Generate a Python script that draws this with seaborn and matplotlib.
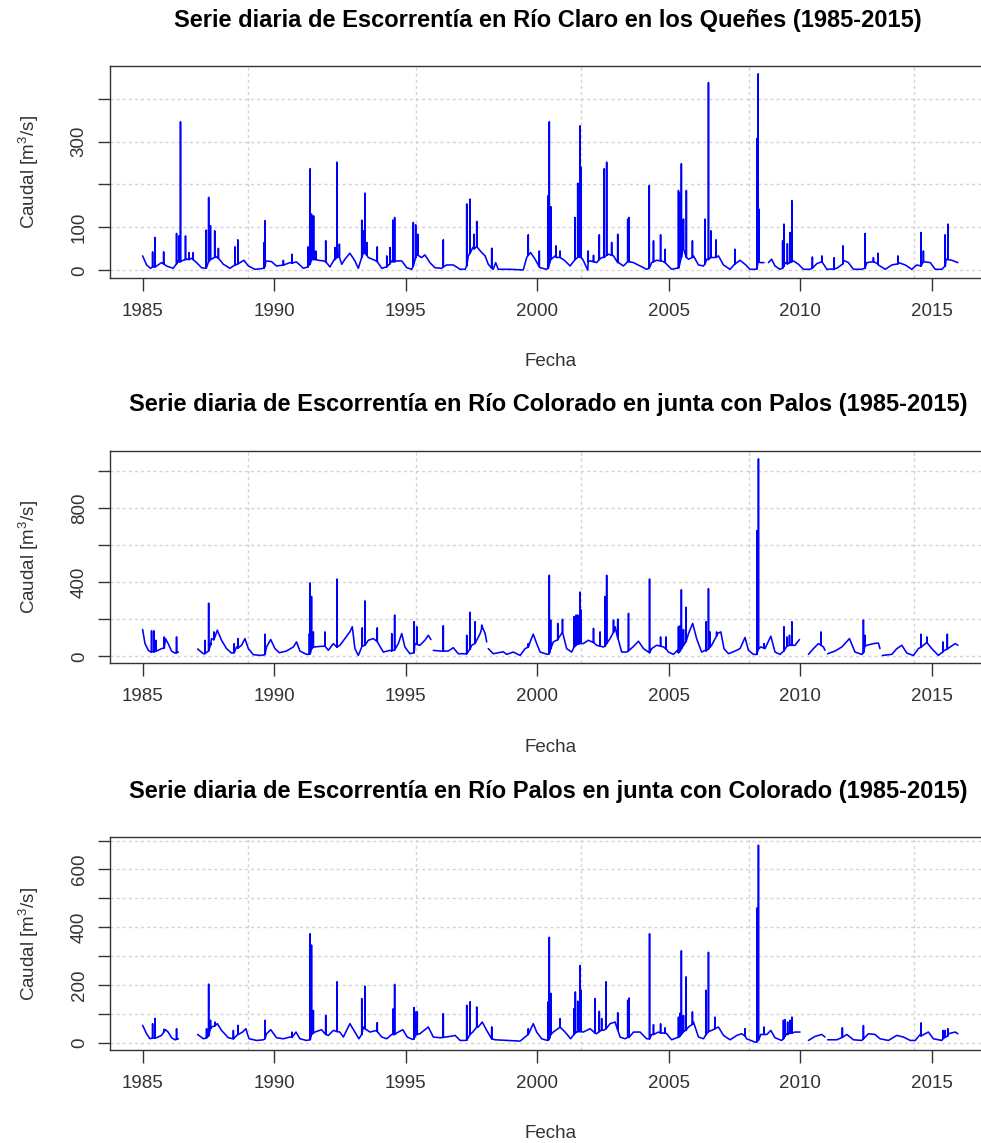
import numpy as np
import pandas as pd
import matplotlib
matplotlib.use("Agg")
import matplotlib.pyplot as plt
import seaborn as sns

# ---------------------------------------------------------------------------
# Daily runoff series (decimal year, m3/s).  Base flow points trace the
# seasonal hydrograph; peaks are the flood events (date, peak, flow at foot).
# NaN marks missing records.
# ---------------------------------------------------------------------------

# Río Claro en los Queñes
claro_t = [1985.00, 1985.15, 1985.30, 1985.53, 1985.72, 1985.91, 1986.16, 1986.35, 1986.48, 1986.67,
           1986.86, 1987.05, 1987.24, 1987.37, 1987.56, 1987.75, 1987.88, 1988.07, 1988.32, 1988.51,
           1988.70, 1988.85, 1989.02, 1989.27, 1989.52, 1989.69, 1989.90, 1990.09, 1990.35, 1990.60,
           1990.85, 1991.11, 1991.30, 1991.42, 1991.68, 1991.87, 1992.12, 1992.29, 1992.44, 1992.57,
           1992.69, 1992.88, 1993.07, 1993.20, 1993.39, 1993.58, 1993.83, 1994.09, 1994.28, 1994.47,
           1994.66, 1994.85, 1995.04, 1995.23, 1995.42, 1995.61, 1995.73, 1995.92, 1996.11, 1996.37,
           1996.56, 1996.81, 1997.07, 1997.26, 1997.38, 1997.55, 1997.70, 1997.89, 1998.02, 1998.14,
           1998.33, 1998.42, 1998.52, 1998.97, 1999.47, 1999.60, 1999.75, 1999.92, 2000.11, 2000.36,
           2000.49, 2000.68, 2000.87, 2001.06, 2001.25, 2001.40, 2001.56, 2001.75, 2001.92, 2002.01,
           2002.26, 2002.45, 2002.71, 2002.90, 2003.09, 2003.28, 2003.47, 2003.66, 2003.91, 2004.16,
           2004.35, 2004.54, 2004.73, 2004.92, 2005.11, 2005.30, 2005.53, 2005.75, 2005.94, 2006.13,
           2006.32, 2006.44, 2006.63, 2006.89, 2007.08, 2007.33, 2007.52, 2007.71, 2007.90, 2008.09,
           2008.28, 2008.47, 2008.62, 2008.70, 2008.79, 2008.91, 2009.04, 2009.23, 2009.42, 2009.74,
           2009.93, 2010.12, 2010.37, 2010.63, 2010.82, 2011.01, 2011.39, 2011.64, 2011.83, 2012.02,
           2012.34, 2012.53, 2012.78, 2012.97, 2013.23, 2013.48, 2013.73, 2013.99, 2014.24, 2014.43,
           2014.68, 2014.94, 2015.13, 2015.38, 2015.54, 2015.76, 2015.99]
claro_q = [33.5, 12.4, 4.6, 10.0, 17.9, 10.0, 4.6, 21.8, 21.8, 25.7,
           28.0, 17.9, 6.0, 4.6, 25.7, 33.5, 29.6, 14.0, 4.6, 12.4,
           17.9, 23.3, 10.0, 2.3, 3.8, 21.8, 20.2, 10.0, 12.4, 17.9,
           19.4, 4.6, 10.0, 28.0, 23.3, 21.8, 7.7, 25.7, 37.4, 14.0,
           25.7, 39.8, 21.8, 4.6, 53.0, 29.6, 23.3, 4.6, 7.7, 21.8,
           21.8, 21.8, 6.0, 2.3, 41.3, 29.6, 35.9, 17.9, 6.0, 4.6,
           12.4, 12.4, 2.3, 2.3, 33.5, 53.0, 57.0, 41.3, 33.5, 14.0,
           2.3, 17.9, 2.3, 2.3, 0.7, 29.6, 41.3, 25.7, 6.0, 2.3,
           21.8, 33.5, 29.6, 21.8, 10.0, 21.8, 33.5, 23.3, 0.3, 21.8,
           17.9, 29.6, 37.4, 33.5, 17.9, 10.0, 21.8, 17.9, 10.0, 2.3,
           17.9, 23.3, 21.8, 14.0, 2.3, 4.6, 53.0, 25.7, 33.5, 12.4,
           10.0, 25.7, 29.6, 33.5, 12.4, 2.3, 17.9, 23.3, 14.0, 2.3,
           2.3, 17.9, 17.9, np.nan, 17.9, 25.7, 10.0, 2.3, 17.9, 21.8,
           14.0, 2.3, 2.3, 15.5, 21.8, 2.3, 4.6, 23.3, 17.9, 2.3,
           2.3, 17.9, 21.8, 12.4, 2.3, 12.4, 17.9, 12.4, 2.3, 12.4,
           21.8, 17.9, 2.3, 2.3, 25.7, 23.3, 17.9]
claro_pico_t = [1985.38, 1985.47, 1985.80, 1986.29, 1986.38, 1986.44, 1986.63, 1986.77, 1986.92, 1987.42,
                1987.51, 1987.58, 1987.74, 1987.88, 1988.51, 1988.62, 1989.62, 1989.65, 1990.35, 1990.68,
                1991.29, 1991.37, 1991.42, 1991.50, 1991.58, 1991.96, 1992.31, 1992.39, 1992.48, 1993.33,
                1993.39, 1993.45, 1993.52, 1993.92, 1994.28, 1994.40, 1994.51, 1994.58, 1995.29, 1995.38,
                1995.46, 1996.43, 1997.32, 1997.45, 1997.60, 1997.70, 1998.27, 1999.66, 2000.08, 2000.42,
                2000.46, 2000.52, 2000.72, 2000.87, 2001.44, 2001.54, 2001.63, 2001.67, 2001.94, 2002.14,
                2002.36, 2002.55, 2002.64, 2002.83, 2003.06, 2003.44, 2003.49, 2004.26, 2004.42, 2004.69,
                2004.86, 2005.37, 2005.40, 2005.48, 2005.56, 2005.67, 2005.90, 2006.38, 2006.51, 2006.60,
                2006.80, 2007.52, 2008.35, 2008.40, 2008.42, 2009.33, 2009.38, 2009.51, 2009.61, 2009.68,
                2010.46, 2010.82, 2011.29, 2011.62, 2012.46, 2012.78, 2012.95, 2013.71, 2014.59, 2014.68,
                2015.51, 2015.61]
claro_pico_q = [42.9, 76.5, 42.9, 85.9, 80.0, 346.0, 80.0, 41.3, 41.0, 93.6,
                170.0, 103.8, 92.0, 51.0, 54.6, 71.0, 64.7, 115.5, 23.3, 37.4,
                54.6, 236.6, 131.0, 127.0, 45.0, 68.7, 53.0, 252.0, 61.0, 117.0,
                92.0, 180.0, 65.0, 54.6, 33.5, 53.0, 117.0, 123.0, 111.6, 106.0,
                84.0, 71.0, 154.6, 166.0, 84.0, 114.0, 51.5, 82.7, 45.0, 174.0,
                346.0, 148.0, 57.0, 45.0, 123.0, 203.0, 336.6, 240.0, 45.0, 35.0,
                82.7, 236.6, 252.0, 65.0, 84.0, 119.4, 123.0, 197.5, 68.7, 82.7,
                49.0, 186.0, 179.6, 248.3, 119.4, 186.0, 68.7, 119.4, 437.4, 92.0,
                71.0, 49.0, 307.0, 457.7, 143.0, 68.7, 107.7, 62.0, 88.0, 162.4,
                31.0, 33.5, 29.6, 57.0, 85.8, 29.6, 40.0, 33.5, 88.0, 45.0,
                82.7, 107.7]
claro_pico_pie = [8, 8, 15, 15, 20, 20, 25, 25, 25, 5,
                  20, 25, 30, 28, 12, 15, 5, 10, 12, 17,
                  8, 15, 25, 25, 25, 20, 25, 30, 30, 30,
                  40, 40, 35, 20, 8, 15, 20, 20, 10, 30,
                  35, 8, 10, 40, 50, 55, 5, 35, 8, 5,
                  15, 25, 30, 30, 25, 30, 30, 30, 20, 20,
                  25, 30, 35, 35, 18, 20, 20, 5, 20, 22,
                  18, 5, 10, 30, 50, 30, 30, 15, 25, 30,
                  30, 15, 3, 20, 20, 5, 10, 15, 18, 20,
                  5, 20, 3, 15, 5, 20, 15, 15, 10, 20,
                  10, 25]

# Río Colorado en junta con Palos
colorado_t = [1985.00, 1985.09, 1985.22, 1985.31, 1985.53, 1985.72, 1985.87, 1985.97, 1986.10, 1986.23,
              1986.36, 1986.70, 1987.09, 1987.31, 1987.62, 1987.84, 1988.00, 1988.19, 1988.38, 1988.57,
              1988.76, 1988.89, 1989.02, 1989.21, 1989.52, 1989.71, 1989.87, 1990.03, 1990.20, 1990.47,
              1990.73, 1990.85, 1990.98, 1991.23, 1991.55, 1991.74, 1992.06, 1992.25, 1992.50, 1992.69,
              1992.88, 1992.97, 1993.07, 1993.20, 1993.33, 1993.58, 1993.77, 1993.96, 1994.15, 1994.40,
              1994.72, 1994.85, 1994.97, 1995.16, 1995.35, 1995.54, 1995.73, 1995.86, 1995.96, 1996.00,
              1996.05, 1996.31, 1996.62, 1996.81, 1997.00, 1997.26, 1997.51, 1997.70, 1997.83, 1997.91,
              1998.02, 1998.08, 1998.11, 1998.14, 1998.33, 1998.71, 1998.84, 1999.09, 1999.35, 1999.54,
              1999.73, 1999.85, 1999.98, 2000.11, 2000.39, 2000.61, 2000.80, 2000.96, 2001.12, 2001.31,
              2001.50, 2001.75, 2001.94, 2002.26, 2002.52, 2002.77, 2002.96, 2003.09, 2003.21, 2003.40,
              2003.66, 2003.85, 2004.04, 2004.23, 2004.35, 2004.54, 2004.80, 2004.99, 2005.18, 2005.33,
              2005.75, 2005.91, 2006.06, 2006.25, 2006.38, 2006.63, 2006.85, 2006.98, 2007.10, 2007.27,
              2007.52, 2007.71, 2007.90, 2008.03, 2008.22, 2008.32, 2008.50, 2008.66, 2008.88, 2009.04,
              2009.23, 2009.49, 2009.80, 2009.97, 2010.10, 2010.31, 2010.50, 2010.69, 2010.88, 2010.94,
              2011.00, 2011.04, 2011.32, 2011.58, 2011.87, 2012.08, 2012.34, 2012.53, 2012.78, 2012.97,
              2013.03, 2013.07, 2013.12, 2013.48, 2013.67, 2013.86, 2014.05, 2014.30, 2014.49, 2014.81,
              2015.00, 2015.25, 2015.44, 2015.70, 2015.89, 2015.99]
colorado_q = [145, 69, 32.6, 23.5, 29, 42, 96, 69, 29, 18,
              23.5, np.nan, 40, 14.5, 96, 141.5, 87, 42, 18, 51,
              60, 96, 42, 9, 5.3, 51, 91, 42, 20, 29,
              51, 78, 29, 11, 51, 54, 33, 69, 60, 96,
              132.4, 160, 42, 5.3, 51, 87, 96, 69, 23.5, 32.6,
              69, 123, 51, 14.5, 69, 60, 87, 114, 91, np.nan,
              32.6, 29, 29, 47, 14.5, 14.5, 60, 87, 123, 160,
              123, 78, np.nan, 42, 14.5, 25, 11, 23.5, 5.3, 42,
              78, 120, 69, 23.5, 11, 78, 96, 132, 42, 23.5,
              69, 69, 87, 60, 51, 96, 160, 87, 23.5, 23.5,
              54, 82, 42, 23.5, 42, 60, 51, 23.5, 11, 32.6,
              123, 178, 96, 23.5, 32.6, 60, 123, 132, 42, 14.5,
              29, 42, 102, 32.6, 11, 11, 51, 42, 109, 23.5,
              11, 60, 60, 91, np.nan, 11, 42, 69, 51, 33,
              np.nan, 14.5, 29, 51, 96, 23.5, 11, 60, 69, 72,
              42, np.nan, 5.3, 11, 42, 60, 18, 5.3, 42, 78,
              42, 5.3, 29, 51, 69, 60]
colorado_pico_t = [1985.34, 1985.43, 1985.51, 1985.82, 1986.29, 1987.37, 1987.51, 1987.58, 1987.71, 1988.48,
                   1988.62, 1989.65, 1991.34, 1991.37, 1991.42, 1991.49, 1991.93, 1992.39, 1993.35, 1993.45,
                   1993.92, 1994.47, 1994.58, 1995.32, 1995.42, 1996.43, 1997.32, 1997.45, 1997.64, 1997.89,
                   1999.66, 2000.46, 2000.51, 2000.78, 2000.96, 2001.40, 2001.48, 2001.54, 2001.63, 2001.67,
                   2002.14, 2002.39, 2002.58, 2002.64, 2002.90, 2003.06, 2003.47, 2004.27, 2004.69, 2004.90,
                   2005.37, 2005.43, 2005.48, 2005.56, 2005.66, 2006.42, 2006.51, 2006.57, 2006.82, 2008.35,
                   2008.41, 2008.62, 2009.38, 2009.49, 2009.59, 2009.68, 2010.79, 2012.40, 2012.46, 2014.59,
                   2014.81, 2015.42, 2015.59]
colorado_pico_q = [138, 138, 87, 105, 105, 87, 287, 69, 132, 69,
                   96, 120, 123, 396, 323, 132, 132, 417, 154, 299,
                   154, 123, 223, 187, 160, 165, 114, 238, 187, 169,
                   69, 437, 196, 178, 200, 214, 223, 223, 347, 250,
                   151, 132, 323, 437, 196, 201, 232, 417, 105, 105,
                   160, 165, 359, 145, 265, 187, 365, 132, 132, 677,
                   1064, 69, 160, 105, 114, 187, 132, 196, 114, 120,
                   105, 78, 120]
colorado_pico_pie = [25, 25, 28, 45, 20, 15, 30, 60, 90, 20,
                     45, 10, 12, 15, 40, 50, 55, 50, 55, 60,
                     80, 30, 35, 20, 65, 29, 14, 40, 70, 150,
                     50, 15, 40, 90, 130, 50, 60, 65, 70, 70,
                     75, 55, 55, 70, 130, 100, 30, 20, 55, 40,
                     20, 30, 40, 60, 80, 30, 40, 50, 110, 11,
                     40, 45, 30, 55, 60, 60, 60, 20, 55, 50,
                     75, 25, 40]

# Río Palos en junta con Colorado
palos_t = [1985.00, 1985.15, 1985.28, 1985.53, 1985.72, 1985.87, 1985.97, 1986.10, 1986.23, 1986.36,
           1986.70, 1987.09, 1987.31, 1987.62, 1987.84, 1988.00, 1988.26, 1988.45, 1988.64, 1988.80,
           1988.93, 1988.98, 1989.05, 1989.33, 1989.59, 1989.71, 1989.87, 1990.09, 1990.35, 1990.60,
           1990.83, 1990.98, 1991.23, 1991.55, 1991.80, 1992.06, 1992.25, 1992.50, 1992.63, 1992.88,
           1993.07, 1993.22, 1993.39, 1993.64, 1993.90, 1994.09, 1994.28, 1994.47, 1994.72, 1994.89,
           1995.06, 1995.27, 1995.54, 1995.86, 1996.05, 1996.31, 1996.69, 1996.88, 1997.07, 1997.26,
           1997.55, 1997.76, 1997.91, 1998.08, 1998.23, 1998.40, 1998.84, 1999.35, 1999.54, 1999.85,
           1999.98, 2000.17, 2000.39, 2000.61, 2000.87, 2001.06, 2001.27, 2001.50, 2001.75, 2002.01,
           2002.26, 2002.52, 2002.77, 2002.96, 2003.15, 2003.34, 2003.66, 2003.91, 2004.16, 2004.35,
           2004.61, 2004.92, 2005.11, 2005.30, 2005.75, 2005.94, 2006.13, 2006.32, 2006.63, 2006.89,
           2007.08, 2007.33, 2007.59, 2007.77, 2007.96, 2008.28, 2008.50, 2008.73, 2008.88, 2009.04,
           2009.29, 2009.49, 2009.80, 2009.99, 2010.10, 2010.31, 2010.56, 2010.82, 2010.94, 2011.00,
           2011.04, 2011.39, 2011.77, 2012.02, 2012.34, 2012.59, 2012.84, 2013.03, 2013.35, 2013.67,
           2013.92, 2014.18, 2014.37, 2014.56, 2014.87, 2015.06, 2015.38, 2015.63, 2015.89, 2015.99]
palos_q = [61.5, 32.5, 15.1, 18.6, 26.7, 46.4, 38.3, 18.6, 11.6, 15.1,
           np.nan, 30, 15.1, 55.7, 67.3, 44, 18.6, 15, 30, 38.3,
           49.9, 32.5, 15.1, 9.3, 11.6, 32.5, 46.4, 18.6, 15.1, 21,
           38.3, 15.1, 9.3, 38.3, 46.4, 26.7, 44, 38.3, 21, 67.3,
           38.3, 15.1, 55.7, 38.3, 44, 21, 15.1, 30, 38.3, 46.4,
           21, 12.8, 32.5, 55.7, 21, 18.6, 23.2, 26.7, 9.3, 9.3,
           38.3, 55.7, 73, 44, 21, 11.6, 9.3, 7, 21, 67.3,
           38.3, 15.1, 9.3, 38.3, 55.7, 38.3, 15.1, 38.3, 38.3, 49.9,
           32.5, 44, 67.3, 73, 21, 15.1, 38.3, 38.3, 15.1, 30,
           38.3, 32.5, 11.6, 18.6, 55.7, 73, 21, 15.1, 44, 55.7,
           26.7, 11.6, 26.7, 32.5, 15.1, 3.5, 30, 30, 44, 18.6,
           9.3, 32.5, 38.3, 38.3, np.nan, 9.3, 23.2, 30, 21, np.nan,
           11.6, 11.6, 30, 11.6, 9.3, 32.5, 30, 15.1, 9.3, 26.7,
           21, 9.3, 9.3, 30, 38.3, 15.1, 9.3, 32.5, 38.3, 32.5]
palos_pico_t = [1985.38, 1985.47, 1985.82, 1986.29, 1987.43, 1987.51, 1987.58, 1987.75, 1988.45, 1988.62,
                1989.65, 1990.68, 1991.37, 1991.42, 1991.49, 1991.96, 1992.39, 1993.33, 1993.45, 1993.92,
                1994.53, 1994.58, 1995.32, 1995.39, 1995.44, 1996.43, 1997.32, 1997.45, 1997.70, 1998.27,
                1999.66, 2000.42, 2000.46, 2000.52, 2000.87, 2001.40, 2001.45, 2001.54, 2001.63, 2001.67,
                2002.20, 2002.36, 2002.45, 2002.62, 2003.06, 2003.44, 2003.49, 2004.27, 2004.42, 2004.69,
                2004.86, 2005.37, 2005.43, 2005.48, 2005.56, 2005.66, 2005.90, 2006.42, 2006.51, 2006.76,
                2007.90, 2008.35, 2008.41, 2008.62, 2009.36, 2009.42, 2009.52, 2009.61, 2009.68, 2011.60,
                2012.40, 2014.59, 2015.42, 2015.51, 2015.61]
palos_pico_q = [67.3, 85, 48, 50, 50, 204, 79, 73, 44, 61.5,
                79, 38.3, 378, 339, 113, 96, 212, 154, 197, 71,
                119, 203, 123, 108, 108, 102, 131, 143, 125, 56,
                50, 143, 366, 172, 85, 119, 177, 145, 268, 183,
                154, 110, 85, 212, 105, 148, 156, 378, 64, 67,
                53, 90, 104, 319, 96, 229, 108, 183, 314, 90,
                50, 467, 684, 56, 79, 81, 73, 79, 90, 53,
                61, 70, 44, 44, 50]
palos_pico_pie = [18, 18, 40, 13, 18, 25, 50, 60, 15, 30,
                  15, 20, 12, 30, 35, 30, 40, 30, 50, 40,
                  30, 30, 15, 30, 30, 20, 10, 30, 55, 15,
                  30, 10, 15, 30, 55, 30, 35, 40, 40, 40,
                  35, 40, 45, 50, 45, 20, 20, 15, 30, 35,
                  35, 20, 25, 30, 40, 45, 65, 30, 40, 50,
                  25, 4, 10, 30, 15, 25, 30, 35, 35, 20,
                  15, 25, 15, 20, 25]

titulos = ["Serie diaria de Escorrentía en Río Claro en los Queñes (1985-2015)",
           "Serie diaria de Escorrentía en Río Colorado en junta con Palos (1985-2015)",
           "Serie diaria de Escorrentía en Río Palos en junta con Colorado (1985-2015)"]
anios_eje = [1985, 1990, 1995, 2000, 2005, 2010, 2015]
yticks = [[0, 100, 200, 300, 400], [0, 200, 400, 600, 800, 1000],
          [0, 100, 200, 300, 400, 500, 600, 700]]
yticklabels = [["0", "100", "", "300", ""], ["0", "", "400", "", "800", ""],
               ["0", "", "200", "", "400", "", "600", ""]]


def a_fecha(t):
    t = np.asarray(t, dtype=float)
    return pd.Timestamp("1985-01-01") + pd.to_timedelta((t - 1985.0) * 365.25, unit="D")


def armar_serie(t, q, pt, pq, pie):
    """Merge base flow points with flood peaks; each peak rises from its
    foot flow the day before and falls back the day after."""
    dia = 1.0 / 365.25
    tt = list(t)
    qq = list(q)
    for a, b, c in zip(pt, pq, pie):
        tt += [a - dia, a, a + dia]
        qq += [c, b, c]
    df = pd.DataFrame({"t": tt, "q": qq}).sort_values("t", kind="mergesort")
    df["tramo"] = df["q"].isna().cumsum()
    df = df.dropna(subset=["q"]).reset_index(drop=True)
    df["fecha"] = a_fecha(df["t"].values)
    return df


series = [armar_serie(claro_t, claro_q, claro_pico_t, claro_pico_q, claro_pico_pie),
          armar_serie(colorado_t, colorado_q, colorado_pico_t, colorado_pico_q, colorado_pico_pie),
          armar_serie(palos_t, palos_q, palos_pico_t, palos_pico_q, palos_pico_pie)]

sns.set_theme(style="white")
plt.rcParams["font.family"] = ["Liberation Sans", "DejaVu Sans"]
plt.rcParams["mathtext.default"] = "regular"

W, H = 981, 1143
fig = plt.figure(figsize=(W / 100, H / 100), dpi=100)
fig.patch.set_facecolor("white")

# panel boxes in pixels: (left, top, right, bottom)
cajas = [(110, 66, 990.6, 278), (110, 451, 990.6, 663.3), (110, 837.3, 990.6, 1050)]

inicio = pd.Timestamp("1985-01-01")
fin = pd.Timestamp("2015-12-31")
margen = (fin - inicio) * 0.04
grid_x = a_fecha([1988.99, 1995.38, 2001.68, 2008.05, 2014.34])
gris = "#d3d3d3"
tinta = "#333333"

for i, (df, caja) in enumerate(zip(series, cajas)):
    l, t, r, b = caja
    ax = fig.add_axes([l / W, 1 - b / H, (r - l) / W, (b - t) / H])
    ax.set_facecolor("white")

    for yv in yticks[i]:
        ax.axhline(yv, color=gris, lw=1.0, ls=(0, (2.2, 2.2)), zorder=0)
    for xv in grid_x:
        ax.axvline(xv, color=gris, lw=1.0, ls=(0, (2.2, 2.2)), zorder=0)

    sns.lineplot(data=df, x="fecha", y="q", units="tramo", estimator=None,
                 color="#0000ff", lw=1.15, ax=ax, legend=False)

    qmax, qmin = df["q"].max(), df["q"].min()
    rango = qmax - qmin
    ax.set_ylim(qmin - 0.04 * rango, qmax + 0.04 * rango)
    ax.set_xlim(inicio - margen, fin + margen)

    ax.set_xticks([pd.Timestamp(f"{a}-01-01") for a in anios_eje])
    ax.set_xticklabels([str(a) for a in anios_eje])
    ax.set_yticks(yticks[i])
    ax.set_yticklabels(yticklabels[i], rotation=90, va="center")

    ax.tick_params(axis="both", which="major", length=9, width=1.0, color=tinta,
                   labelsize=13.5, labelcolor=tinta, direction="out")
    ax.tick_params(axis="x", pad=9)
    ax.tick_params(axis="y", pad=7)
    ax.xaxis.set_ticks_position("bottom")
    ax.yaxis.set_ticks_position("left")
    for sp in ax.spines.values():
        sp.set_visible(True)
        sp.set_color(tinta)
        sp.set_linewidth(1.0)

    alto = b - t
    ancho = r - l
    ax.set_xlabel("Fecha", fontsize=13.5, color=tinta)
    ax.xaxis.set_label_coords(0.5, -84 / alto)
    ax.xaxis.label.set_va("center")
    ax.set_ylabel("Caudal [m$^3$/s]", fontsize=13.5, color=tinta)
    ax.yaxis.set_label_coords((29 - l) / ancho, 0.5)
    ax.yaxis.label.set_va("center")

    ax.text(0.4975, 1 + 46 / alto, titulos[i], transform=ax.transAxes,
            ha="center", va="center", fontsize=17, fontweight="bold", color="black")

fig.savefig("out.png", dpi=100, facecolor="white")
